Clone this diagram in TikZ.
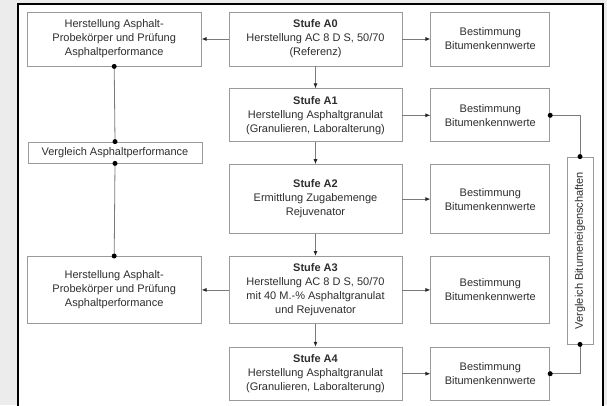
\documentclass[tikz,border=0pt]{standalone}
\usepackage{fontspec}
\setmainfont{Liberation Sans}
\usepackage{xcolor}
\usetikzlibrary{arrows.meta,positioning,calc}
\definecolor{boxline}{HTML}{9A9A9A}
\definecolor{conline}{HTML}{7A7A7A}
\definecolor{txt}{HTML}{2E2E2E}
\definecolor{outside}{HTML}{ECECEC}

\begin{document}
\begin{tikzpicture}[
    x=1pt, y=-1pt,
    stage/.style={rectangle, draw=boxline, line width=0.8pt, fill=white, text=txt, minimum width=173pt, align=center, inner sep=0pt, font=\fontsize{11}{14}\selectfont},
    side/.style={stage, minimum width=174pt},
    result/.style={stage, minimum width=119pt},
    arrow/.style={-{Latex[length=5pt,width=4pt,color=black!85]}, draw=conline, line width=0.8pt},
    link/.style={draw=conline, line width=0.8pt},
    dot/.style={circle, fill=black, inner sep=0pt, minimum size=5pt}
]
    \useasboundingbox (0,0) rectangle (607,405);
    \fill[outside] (0,0) rectangle (607,405);
    \draw[black, line width=2.5pt, fill=white] (18,4) rectangle (603,415);

    % Stufen
    \node[stage, minimum height=54pt] (a0) at (315.5,39) {\textbf{Stufe A0}\\Herstellung AC 8 D S, 50/70\\(Referenz)};
    \node[stage, minimum height=53pt, below=22pt of a0] (a1) {\textbf{Stufe A1}\\Herstellung Asphaltgranulat\\(Granulieren, Laboralterung)};
    \node[stage, minimum height=69pt, below=22pt of a1] (a2) {\textbf{Stufe A2}\\Ermittlung Zugabemenge\\Rejuvenator};
    \node[stage, minimum height=67pt, below=22pt of a2] (a3) {\textbf{Stufe A3}\\Herstellung AC 8 D S, 50/70\\mit 40 M.-\% Asphaltgranulat\\und Rejuvenator};
    \node[stage, minimum height=53pt, below=23pt of a3] (a4) {\textbf{Stufe A4}\\Herstellung Asphaltgranulat\\(Granulieren, Laboralterung)};

    % Bitumenkennwerte
    \node[result, minimum height=54pt, right=28pt of a0] (r0) {Bestimmung\\Bitumenkennwerte};
    \node[result, minimum height=53pt, right=28pt of a1] (r1) {Bestimmung\\Bitumenkennwerte};
    \node[result, minimum height=69pt, right=28pt of a2] (r2) {Bestimmung\\Bitumenkennwerte};
    \node[result, minimum height=67pt, right=28pt of a3] (r3) {Bestimmung\\Bitumenkennwerte};
    \node[result, minimum height=53pt, right=28pt of a4] (r4) {Bestimmung\\Bitumenkennwerte};

    % Asphaltperformance
    \node[side, minimum height=54pt, left=27pt of a0] (p0) {Herstellung Asphalt-\\Probekörper und Prüfung\\Asphaltperformance};
    \node[side, minimum height=21pt] (vp) at (115,152.5) {Vergleich Asphaltperformance};
    \node[side, minimum height=67pt, left=27pt of a3] (p3) {Herstellung Asphalt-\\Probekörper und Prüfung\\Asphaltperformance};

    \node[stage, minimum width=26pt, minimum height=187pt] (vb) at (580,250.5) {};
    \node[rotate=90, text=txt, font=\fontsize{11}{14}\selectfont] (vbtext) at (vb.center) {Vergleich Bitumeneigenschaften};

    \draw[arrow] (a0) -- (a1);
    \draw[arrow] (a1) -- (a2);
    \draw[arrow] (a2) -- (a3);
    \draw[arrow] (a3) -- (a4);
    \foreach \i in {0,...,4}
        \draw[arrow] (a\i) -- (r\i);
    \draw[arrow] (a0) -- (p0);
    \draw[arrow] (a3) -- (p3);

    \draw[link] (p0.south) -- (vp.north);
    \draw[link] (vp.south) -- (p3.north);
    \draw[link] (r1.east) -| (vb.north);
    \draw[link] (vb.south) |- (r4.east);

    \foreach \pt in {p0.south, vp.north, vp.south, p3.north, r1.east, vb.north, vb.south, r4.east}
        \node[dot] at (\pt) {};
\end{tikzpicture}
\end{document}
